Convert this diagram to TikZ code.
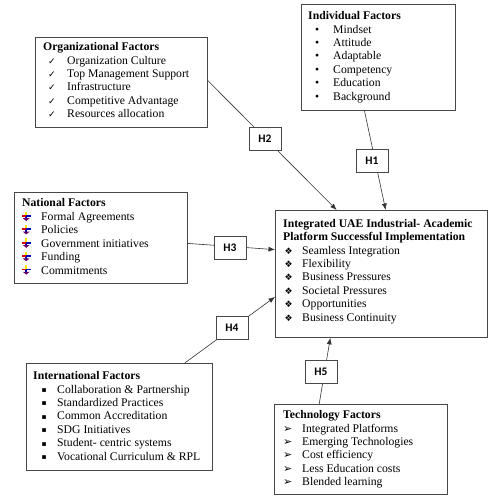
\documentclass[tikz,border=0pt]{standalone}
\usepackage{fontspec}
\setmainfont{Liberation Serif}
\newfontfamily\dejavu{DejaVu Sans}
\newfontfamily\carlito{Carlito}
\usetikzlibrary{arrows.meta,calc}
\begin{document}
\begin{tikzpicture}[x=1pt,y=-1pt,
  box/.style={draw=black!72, line width=0.8pt, inner sep=0pt, anchor=north west},
  txt/.style={anchor=base west, inner sep=0pt, font=\fontsize{11.7}{13.4}\selectfont},
  ttl/.style={txt, font=\fontsize{11.7}{13.4}\selectfont\bfseries},
  bul/.style={anchor=base west, inner sep=0pt, font=\dejavu\fontsize{9}{10}\selectfont},
  hbox/.style={draw=black!72, line width=0.8pt, fill=white, minimum width=32pt, minimum height=23pt, inner sep=0pt, font=\carlito\bfseries\fontsize{11.5}{12}\selectfont},
  conn/.style={draw=black!80, line width=0.6pt},
  arr/.style={conn, -{Latex[length=6.5pt,width=5pt]}}
]
\useasboundingbox (0,0) rectangle (499,501);

% ---------- boxes ----------
\node[box, minimum width=172pt, minimum height=90pt] (org) at (35,37) {};
\node[box, minimum width=154pt, minimum height=106pt] (ind) at (301,4) {};
\node[box, minimum width=173pt, minimum height=91pt] (nat) at (14,192) {};
\node[box, minimum width=212pt, minimum height=127pt] (main) at (275,210) {};
\node[box, minimum width=186pt, minimum height=107pt] (intl) at (26,363) {};
\node[box, minimum width=173pt, minimum height=90pt] (tech) at (274,404) {};

% ---------- Organizational ----------
\node[ttl] (orgt) at (43,50.5) {Organizational Factors};
\foreach \t [count=\i] in {Organization Culture, Top Management Support, Infrastructure, Competitive Advantage, Resources allocation}{
  \node[bul] (orgb\i) at (48,{64+13.4*(\i-1)}) {✓};
  \node[txt] (orgi\i) at (67,{64+13.4*(\i-1)}) {\t};
}

% ---------- Individual ----------
\node[ttl] (indt) at (308,19) {Individual Factors};
\foreach \t [count=\i] in {Mindset, Attitude, Adaptable, Competency, Education, Background}{
  \node[txt] (indb\i) at (315,{33+13.4*(\i-1)}) {•};
  \node[txt] (indi\i) at (333,{33+13.4*(\i-1)}) {\t};
}

% ---------- National ----------
\node[ttl] (natt) at (22,206.5) {National Factors};
\foreach \t [count=\i] in {Formal Agreements, Policies, Government initiatives, Funding, Commitments}{
  \pgfmathsetmacro{\yy}{220.5+13.4*(\i-1)}
  \fill[yellow!85!orange] (25.3,\yy-9) rectangle (27.1,\yy-5.5);
  \fill[red!85!black] (21.5,\yy-5.5) rectangle (26.2,\yy-3.8);
  \fill[blue!70!black] (26.2,\yy-5.5) rectangle (31,\yy-3.8);
  \fill[blue!70!black] (25.3,\yy-3.8) rectangle (27.1,\yy-1.8);
  \fill[violet!80!black] (22.8,\yy-2.3) -- (29.6,\yy-2.3) -- (26.2,\yy+0.5) -- cycle;
  \node[txt] (nati\i) at (41,\yy) {\t};
}

% ---------- Main ----------
\node[ttl] (maint1) at (283,227) {Integrated UAE Industrial- Academic};
\node[ttl] (maint2) at (283,240.5) {Platform Successful Implementation};
\foreach \t [count=\i] in {Seamless Integration, Flexibility, Business Pressures, Societal Pressures, Opportunities, Business Continuity}{
  \node[bul] (mainb\i) at (284.5,{254+13.4*(\i-1)}) {❖};
  \node[txt] (maini\i) at (302,{254+13.4*(\i-1)}) {\t};
}

% ---------- International ----------
\node[ttl] (intlt) at (33,379.5) {International Factors};
\foreach \t [count=\i] in {Collaboration \& Partnership, Standardized Practices, Common Accreditation, SDG Initiatives, Student- centric systems, Vocational Curriculum \& RPL}{
  \node[bul, font=\dejavu\fontsize{7.5}{8}\selectfont] (intlb\i) at (41.5,{392.5+13.4*(\i-1)}) {▪};
  \node[txt] (intli\i) at (57,{393+13.4*(\i-1)}) {\t};
}

% ---------- Technology ----------
\node[ttl] (techt) at (283,418.5) {Technology Factors};
\foreach \t [count=\i] in {Integrated Platforms, Emerging Technologies, Cost efficiency, Less Education costs, Blended learning}{
  \node[bul, font=\dejavu\fontsize{11}{12}\selectfont] (techb\i) at (283,{432+13.4*(\i-1)}) {➢};
  \node[txt] (techi\i) at (302,{432+13.4*(\i-1)}) {\t};
}

% ---------- connector end points ----------
\coordinate (s1) at ($(ind.south west)!0.41!(ind.south east)$);
\coordinate (e1) at ($(main.north west)!0.52!(main.north east)$);
\coordinate (s2) at ($(org.north east)!0.48!(org.south east)$);
\coordinate (e2) at ($(main.north west)!0.29!(main.north east)$);
\coordinate (s3) at ($(nat.north east)!0.56!(nat.south east)$);
\coordinate (e3) at ($(main.north west)!0.31!(main.south west)$);
\coordinate (s4) at ($(intl.north west)!0.85!(intl.north east)$);
\coordinate (e4) at ($(main.north west)!0.68!(main.south west)$);
\coordinate (s5) at ($(tech.north west)!0.26!(tech.north east)$);
\coordinate (e5) at ($(main.south west)!0.26!(main.south east)$);

\draw[arr] (s1) -- (e1);
\draw[arr] (s2) -- (e2);
\draw[arr] (s3) -- (e3);
\draw[arr] (s4) -- (e4);
\draw[arr] (s5) -- (e5);

% ---------- hypothesis labels ----------
\node[hbox] (h1) at (372,161) {H1};
\node[hbox] (h2) at (265,139) {H2};
\node[hbox] (h3) at (230,248) {H3};
\node[hbox] (h4) at (232,327.5) {H4};
\node[hbox] (h5) at (321,371.5) {H5};
\end{tikzpicture}
\end{document}
